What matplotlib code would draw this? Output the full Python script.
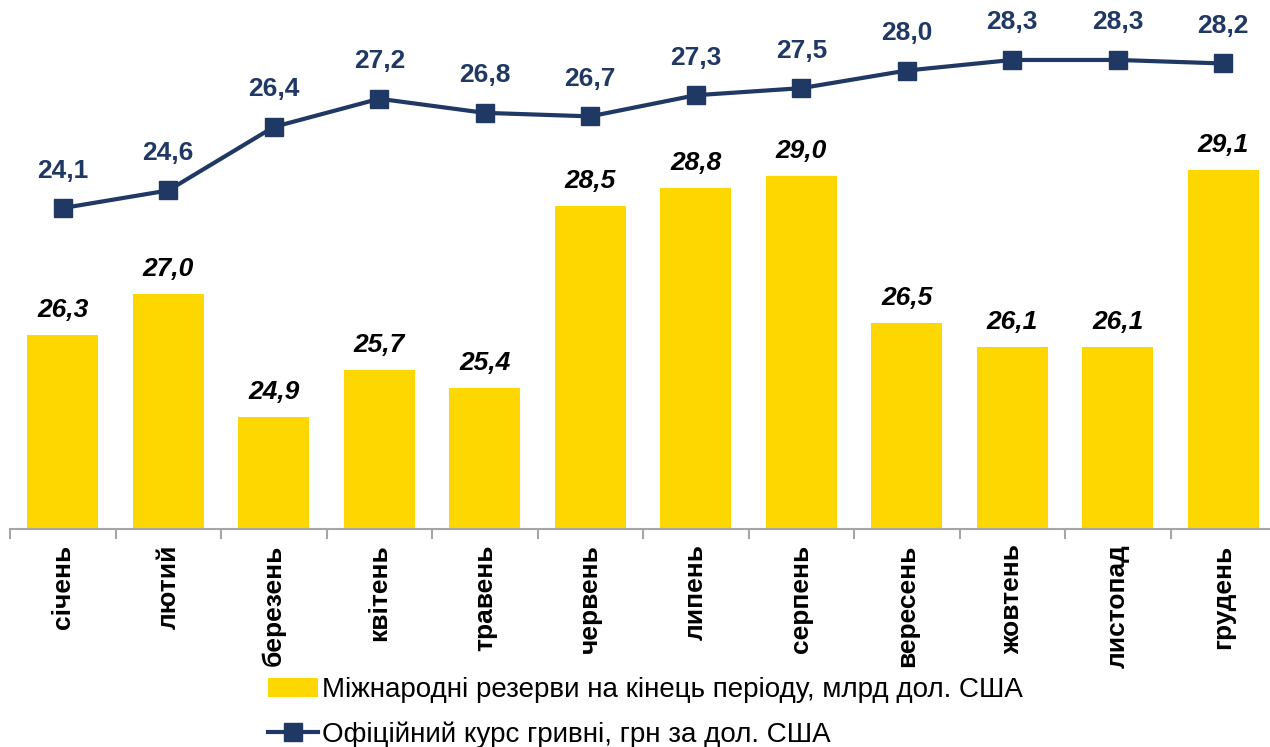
import numpy as np
import matplotlib.pyplot as plt
from matplotlib.patches import Patch
from matplotlib.lines import Line2D

plt.rcParams['font.family'] = ['Liberation Sans', 'DejaVu Sans']

months = ['січень', 'лютий', 'березень', 'квітень', 'травень', 'червень',
          'липень', 'серпень', 'вересень', 'жовтень', 'листопад', 'грудень']
reserves = [26.3, 27.0, 24.9, 25.7, 25.4, 28.5, 28.8, 29.0, 26.5, 26.1, 26.1, 29.1]
rate = [24.1, 24.6, 26.4, 27.2, 26.8, 26.7, 27.3, 27.5, 28.0, 28.3, 28.3, 28.2]

reserves_label = 'Міжнародні резерви на кінець періоду, млрд дол. США'
rate_label = 'Офіційний курс гривні, грн за дол. США'

yellow = '#FFD700'
navy = '#1F3864'

fig = plt.figure(figsize=(12.7, 7.47), dpi=100)
ax = fig.add_axes([10 / 1270, 1 - 529 / 747, 1266 / 1270, 529 / 747])
x = np.arange(len(months))

ax.bar(x, reserves, 0.67, color=yellow, zorder=2)
ax.set_ylim(23, 32)
ax.set_xlim(-0.5, len(months) - 0.5)

for xi, v in zip(x, reserves):
    ax.annotate(f'{v:.1f}'.replace('.', ','), (xi, v), xytext=(0, 18),
                textcoords='offset points', ha='center', va='center',
                fontsize=19, fontweight='bold', fontstyle='italic', color='black')

ax2 = ax.twinx()
ax2.set_ylim(15, 30)
ax2.plot(x, rate, color=navy, lw=3, marker='s', markersize=13, zorder=3)
for xi, v in zip(x, rate):
    ax2.annotate(f'{v:.1f}'.replace('.', ','), (xi, v), xytext=(0, 27),
                 textcoords='offset points', ha='center', va='center',
                 fontsize=19, fontweight='bold', color=navy)

for a in (ax, ax2):
    for s in ('top', 'right', 'left'):
        a.spines[s].set_visible(False)
    a.set_yticks([])
ax2.spines['bottom'].set_visible(False)
ax.spines['bottom'].set_color('#A6A6A6')
ax.spines['bottom'].set_linewidth(1.5)

ax.set_xticks(x)
ax.set_xticklabels(months, rotation=90, fontsize=19, fontweight='bold')
ax.tick_params(axis='x', which='major', length=0, pad=11)
ax.set_xticks(np.arange(-0.5, len(months), 1), minor=True)
ax.tick_params(axis='x', which='minor', length=7, width=1.5, color='#A6A6A6')

handles = [Patch(facecolor=yellow, edgecolor='none'),
           Line2D([], [], color=navy, lw=3, marker='s', markersize=13)]
fig.legend(handles, [reserves_label, rate_label], loc='upper left',
           bbox_to_anchor=(268 / 1270, 1 - 677 / 747), frameon=False,
           fontsize=20, handlelength=1.8, handletextpad=0.15,
           labelspacing=0.65, borderaxespad=0, borderpad=0)

fig.savefig('out.png', dpi=100)
